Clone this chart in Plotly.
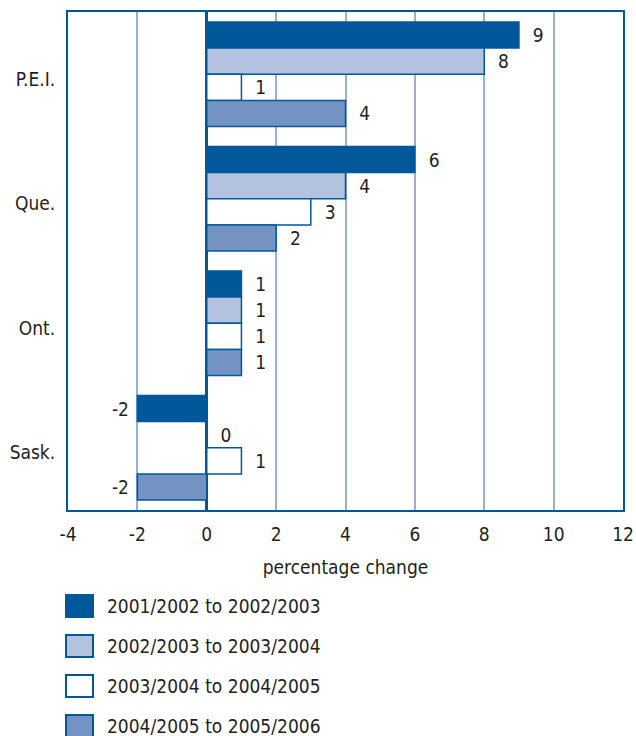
import plotly.graph_objects as go

categories = ["P.E.I.", "Que.", "Ont.", "Sask."]
series_names = ["2001/2002 to 2002/2003", "2002/2003 to 2003/2004",
                "2003/2004 to 2004/2005", "2004/2005 to 2005/2006"]
s1 = [9, 6, 1, -2]
s2 = [8, 4, 1, 0]
s3 = [1, 3, 1, 1]
s4 = [4, 2, 1, -2]
series_values = [s1, s2, s3, s4]
x_ticks = [-4, -2, 0, 2, 4, 6, 8, 10, 12]

DARK = "#00589A"
fills = [DARK, "#B3C3DF", "#FFFFFF", "#7493C3"]
GRID = "#97AFD7"
FONT = "DejaVu Sans Condensed, Liberation Sans Narrow, Arial Narrow, sans-serif"
TXT = "#231F20"
FS = 19

W, H = 636, 736
ML, MR, MT, MB = 68, 13, 12, 226
PW, PH = W - ML - MR, H - MT - MB

fig = go.Figure()
for name, vals, col in zip(series_names, series_values, fills):
    labels = [("\u00a0\u00a0" + str(v)) if v >= 0 else (str(v) + "\u00a0") for v in vals]
    fig.add_trace(go.Bar(
        y=categories, x=vals, name=name, orientation="h",
        marker=dict(color=col, line=dict(color=DARK, width=1.5)),
        text=labels, textposition="outside", cliponaxis=False,
        textfont=dict(family=FONT, size=FS, color=TXT),
        showlegend=False,
    ))

fig.update_layout(
    width=W, height=H, margin=dict(l=ML, r=MR, t=MT, b=MB),
    paper_bgcolor="white", plot_bgcolor="white",
    barmode="group", bargap=0.16, bargroupgap=0,
    font=dict(family=FONT, size=FS, color=TXT),
    xaxis=dict(range=[-4, 12], tickvals=x_ticks, ticktext=[str(t) for t in x_ticks],
               showgrid=True, gridcolor=GRID, gridwidth=2,
               zeroline=True, zerolinecolor=DARK, zerolinewidth=3,
               showline=True, linecolor=DARK, linewidth=2, mirror=True,
               ticks="", ticklabelstandoff=6, automargin=False,
               title=dict(text="percentage change", standoff=17,
                          font=dict(family=FONT, size=FS, color=TXT))),
    yaxis=dict(autorange="reversed", showgrid=False, zeroline=False,
               showline=True, linecolor=DARK, linewidth=2, mirror=True,
               ticks="", ticklabelstandoff=7, ticklabelshift=-5, automargin=False),
)

# custom legend below the plot
def px_to_paper_x(px):
    return (px - ML) / PW

def py_to_paper_y(py):
    return (MT + PH - py) / PH

for i, (name, col) in enumerate(zip(series_names, fills)):
    cy = 606 + 40 * i
    fig.add_shape(type="rect", xref="paper", yref="paper",
                  x0=px_to_paper_x(66), x1=px_to_paper_x(93),
                  y0=py_to_paper_y(cy - 11), y1=py_to_paper_y(cy + 11),
                  fillcolor=col, line=dict(color=DARK, width=2))
    fig.add_annotation(xref="paper", yref="paper",
                       x=px_to_paper_x(105), y=py_to_paper_y(cy),
                       text=name, showarrow=False, xanchor="left", yanchor="middle",
                       font=dict(family=FONT, size=FS, color=TXT))

fig.write_html("out.html")
